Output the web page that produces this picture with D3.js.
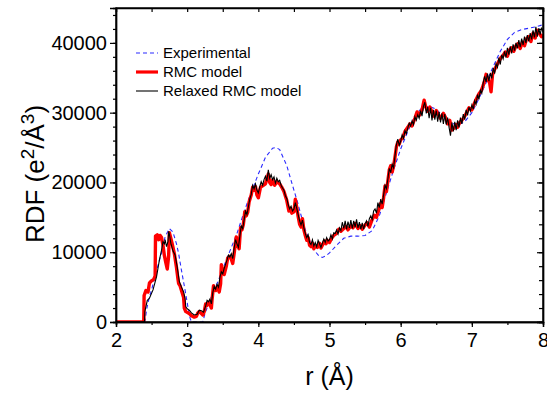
<!DOCTYPE html>
<html>
<head>
<meta charset="utf-8">
<script src="https://cdn.jsdelivr.net/npm/d3@7"></script>
<style>
  body { margin: 0; background: #fff; }
  text { font-family: Arial, "Liberation Sans", sans-serif; fill: #000; }
</style>
</head>
<body>
<figure id="rdf" style="margin:0"></figure>
<script>
// r (Å), RDF value pairs
const experimental = [
  [2.0, 0], [2.4, 0], [2.41, 300], [2.43, 1800], [2.46, 3200], [2.5, 4600], [2.57, 7400], [2.64, 9900],
  [2.69, 12200], [2.75, 13400], [2.8, 12900], [2.85, 11200], [2.88, 9800], [2.92, 7400], [2.97, 4600],
  [3.01, 2200], [3.04, 600], [3.06, 0], [3.22, 0], [3.25, 1200], [3.32, 3100], [3.44, 6000], [3.55, 8900],
  [3.7, 12700], [3.8, 15800], [3.9, 18600], [4.0, 21200], [4.1, 23600], [4.2, 24900], [4.25, 25000],
  [4.3, 24700], [4.4, 22400], [4.5, 18900], [4.55, 17200], [4.6, 15300], [4.65, 13500], [4.7, 12200],
  [4.75, 11000], [4.8, 10100], [4.85, 9500], [4.9, 9250], [4.95, 9500], [5.0, 9900], [5.1, 11000],
  [5.2, 12000], [5.3, 12300], [5.4, 12300], [5.5, 12400], [5.6, 13100], [5.7, 15200], [5.8, 18500],
  [5.9, 21800], [6.0, 24800], [6.1, 27300], [6.2, 29600], [6.3, 30700], [6.4, 30900], [6.5, 30500],
  [6.6, 29500], [6.7, 28600], [6.8, 28200], [6.9, 28700], [7.0, 30000], [7.1, 32000], [7.2, 34300],
  [7.3, 36600], [7.4, 38800], [7.5, 40500], [7.6, 41500], [7.7, 41900], [7.8, 42100], [7.9, 42300],
  [8.0, 42600]
];

const rmcModel = [
  [2.0, 0], [2.39, 0], [2.395, 3800], [2.42, 4500], [2.45, 4300], [2.47, 5600], [2.5, 5900], [2.53, 6100],
  [2.55, 6600], [2.555, 12300], [2.58, 12500], [2.6, 11800], [2.62, 12400], [2.64, 12100], [2.66, 11000],
  [2.68, 9500], [2.7, 8500], [2.72, 7600], [2.74, 9500], [2.75, 12800], [2.77, 12000], [2.79, 11200],
  [2.82, 9800], [2.85, 7800], [2.87, 6200], [2.88, 5500], [2.9, 5200], [2.92, 4500], [2.95, 3500],
  [2.96, 2000], [2.98, 1500], [3.0, 1400], [3.03, 1200], [3.06, 900], [3.1, 700], [3.13, 800],
  [3.15, 1300], [3.17, 1500], [3.2, 1200], [3.22, 1000], [3.24, 1500], [3.26, 2600], [3.28, 2400],
  [3.3, 2800], [3.32, 2500], [3.34, 2000], [3.35, 3200], [3.37, 5200], [3.4, 4500], [3.43, 5000],
  [3.45, 4300], [3.47, 5500], [3.48, 8200], [3.5, 7500], [3.52, 6800], [3.55, 8000], [3.57, 9200],
  [3.6, 9400], [3.62, 9000], [3.64, 8400], [3.66, 9800], [3.68, 11500], [3.69, 12200], [3.71, 11000],
  [3.73, 10500], [3.75, 13500], [3.77, 13200], [3.79, 14000], [3.81, 15800], [3.83, 15200], [3.85, 15700],
  [3.87, 17200], [3.9, 18200], [3.92, 19300], [3.94, 18900], [3.96, 19400], [3.98, 18200], [4.0, 17800],
  [4.03, 19300], [4.06, 19500], [4.1, 19800], [4.12, 20500], [4.14, 21200], [4.16, 20000], [4.18, 19700],
  [4.2, 20300], [4.23, 19600], [4.26, 20100], [4.3, 19800], [4.33, 19300], [4.36, 18700], [4.4, 17400],
  [4.43, 15900], [4.45, 16300], [4.47, 15600], [4.5, 15800], [4.52, 17600], [4.54, 16400], [4.56, 15100],
  [4.58, 14000], [4.6, 13600], [4.62, 14800], [4.64, 13200], [4.66, 12400], [4.68, 11700], [4.7, 12100],
  [4.72, 11000], [4.74, 10800], [4.76, 11300], [4.78, 10500], [4.8, 10900], [4.83, 10700], [4.86, 11300],
  [4.88, 10600], [4.9, 11000], [4.93, 11600], [4.95, 11200], [4.97, 11700], [5.0, 11400], [5.03, 12000],
  [5.06, 12400], [5.1, 12700], [5.13, 13300], [5.16, 13000], [5.2, 13400], [5.23, 13700], [5.26, 13200],
  [5.3, 13800], [5.33, 13500], [5.36, 14100], [5.4, 13400], [5.43, 13800], [5.46, 13300], [5.5, 13900],
  [5.53, 14200], [5.56, 13600], [5.6, 14700], [5.63, 15300], [5.66, 15000], [5.7, 16300], [5.72, 17000],
  [5.74, 16400], [5.76, 17800], [5.78, 19500], [5.8, 18700], [5.82, 20200], [5.84, 21800], [5.86, 22400],
  [5.88, 21500], [5.9, 22300], [5.92, 23600], [5.94, 25100], [5.96, 25800], [5.98, 25500], [6.0, 26100],
  [6.03, 26400], [6.06, 27300], [6.1, 27900], [6.13, 28400], [6.16, 28100], [6.2, 29200], [6.23, 30100],
  [6.26, 29600], [6.3, 30400], [6.33, 31800], [6.35, 30900], [6.38, 30200], [6.41, 30800], [6.44, 30100],
  [6.47, 29500], [6.5, 30300], [6.53, 29700], [6.56, 29200], [6.6, 29900], [6.63, 29300], [6.66, 28400],
  [6.69, 28900], [6.72, 27500], [6.75, 27800], [6.78, 28300], [6.8, 27900], [6.83, 28600], [6.86, 28900],
  [6.9, 29500], [6.93, 30100], [6.96, 30700], [7.0, 30400], [7.03, 31200], [7.06, 31900], [7.1, 32700],
  [7.13, 33100], [7.16, 33900], [7.18, 34600], [7.2, 35500], [7.22, 34800], [7.25, 34300], [7.27, 33000],
  [7.29, 35400], [7.32, 36200], [7.35, 36800], [7.38, 37400], [7.41, 37900], [7.44, 38200], [7.47, 38700],
  [7.5, 38100], [7.53, 39000], [7.56, 39300], [7.59, 38800], [7.62, 39600], [7.65, 39900], [7.68, 39200],
  [7.71, 40100], [7.74, 39600], [7.77, 40600], [7.8, 40900], [7.83, 40200], [7.86, 41400], [7.89, 40700],
  [7.92, 41800], [7.95, 41300], [7.98, 40900], [8.0, 41200]
];

const relaxedModel = [
  [2.0, 0], [2.4, 0], [2.405, 1500], [2.44, 3100], [2.47, 3400], [2.52, 4600], [2.57, 6500], [2.61, 8900],
  [2.64, 10300], [2.66, 11500], [2.68, 11200], [2.69, 11800], [2.71, 10800], [2.73, 11500], [2.74, 13000],
  [2.75, 12600], [2.77, 11300], [2.8, 10200], [2.83, 9600], [2.86, 7900], [2.89, 5800], [2.92, 5000],
  [2.95, 4300], [2.97, 3400], [2.98, 2200], [3.0, 1900], [3.03, 1700], [3.06, 1300], [3.1, 1000],
  [3.14, 1100], [3.17, 1700], [3.2, 1600], [3.23, 1400], [3.26, 2300], [3.28, 3100], [3.3, 2900],
  [3.32, 3300], [3.34, 2600], [3.36, 4200], [3.38, 5100], [3.4, 4700], [3.42, 5400], [3.44, 5000],
  [3.46, 6400], [3.48, 7200], [3.5, 6900], [3.52, 7700], [3.54, 8300], [3.56, 8900], [3.58, 9600],
  [3.6, 9300], [3.62, 9800], [3.64, 9100], [3.66, 10600], [3.68, 11800], [3.7, 11200], [3.72, 10700],
  [3.74, 12300], [3.76, 13800], [3.78, 13400], [3.8, 14600], [3.82, 15900], [3.84, 15400], [3.86, 16500],
  [3.88, 17600], [3.9, 18300], [3.92, 19600], [3.94, 19100], [3.96, 19800], [3.98, 18900], [4.0, 18500],
  [4.02, 19400], [4.04, 20100], [4.06, 19600], [4.08, 20400], [4.1, 20900], [4.12, 20200], [4.14, 21800],
  [4.16, 20600], [4.18, 21100], [4.2, 20400], [4.22, 20800], [4.24, 19900], [4.26, 20600], [4.28, 20100],
  [4.3, 20300], [4.32, 19600], [4.34, 19200], [4.36, 18900], [4.38, 18100], [4.4, 17700], [4.42, 16800],
  [4.44, 16200], [4.46, 16600], [4.48, 15900], [4.5, 16200], [4.52, 17100], [4.54, 16300], [4.56, 15400],
  [4.58, 14500], [4.6, 13900], [4.62, 14600], [4.64, 13500], [4.66, 12700], [4.68, 12100], [4.7, 12500],
  [4.72, 11400], [4.74, 11100], [4.76, 11800], [4.78, 10900], [4.8, 11400], [4.82, 10800], [4.84, 11700],
  [4.86, 11200], [4.88, 10700], [4.9, 11300], [4.92, 11900], [4.94, 11400], [4.96, 12100], [4.98, 11600],
  [5.0, 11800], [5.02, 12500], [5.04, 11900], [5.06, 12800], [5.08, 12700], [5.1, 13200], [5.12, 12600],
  [5.14, 13500], [5.16, 13100], [5.18, 14300], [5.2, 13400], [5.22, 14500], [5.24, 13300], [5.26, 14400],
  [5.28, 13500], [5.3, 14600], [5.32, 13400], [5.34, 14500], [5.36, 13600], [5.38, 14700], [5.4, 13500],
  [5.42, 14300], [5.44, 13300], [5.46, 14200], [5.48, 13300], [5.5, 14100], [5.52, 14500], [5.54, 13700],
  [5.56, 14800], [5.58, 15200], [5.6, 14700], [5.62, 15900], [5.64, 16200], [5.66, 15600], [5.68, 17100],
  [5.7, 16400], [5.72, 17600], [5.74, 16900], [5.76, 18200], [5.78, 19600], [5.8, 19100], [5.82, 20500],
  [5.84, 22000], [5.86, 21400], [5.88, 22600], [5.9, 22100], [5.92, 23800], [5.94, 25400], [5.96, 26200],
  [5.98, 25300], [6.0, 25900], [6.02, 26800], [6.04, 26300], [6.06, 27400], [6.08, 27000], [6.1, 27800],
  [6.12, 28500], [6.14, 28100], [6.16, 28800], [6.18, 28300], [6.2, 29400], [6.22, 28900], [6.24, 29700],
  [6.26, 29200], [6.28, 30300], [6.3, 29500], [6.32, 30900], [6.34, 31500], [6.36, 29900], [6.38, 30800],
  [6.4, 29200], [6.42, 30700], [6.44, 28900], [6.46, 30400], [6.48, 29000], [6.5, 30300], [6.52, 28700],
  [6.54, 30100], [6.56, 28600], [6.58, 29900], [6.6, 28400], [6.62, 29800], [6.64, 28300], [6.66, 29300],
  [6.68, 27900], [6.7, 26700], [6.72, 28600], [6.74, 27300], [6.76, 28700], [6.78, 27500], [6.8, 28900],
  [6.82, 27900], [6.84, 29300], [6.86, 28400], [6.88, 29800], [6.9, 29000], [6.92, 30400], [6.94, 29600],
  [6.96, 30800], [6.98, 30200], [7.0, 31100], [7.02, 30500], [7.04, 31700], [7.06, 31200], [7.08, 32600],
  [7.1, 31900], [7.12, 33200], [7.14, 32800], [7.16, 34300], [7.18, 35200], [7.2, 34400], [7.22, 35600],
  [7.24, 34500], [7.26, 35700], [7.28, 34900], [7.3, 36400], [7.32, 35600], [7.34, 37000], [7.36, 36500],
  [7.38, 37900], [7.4, 36900], [7.42, 38300], [7.44, 37700], [7.46, 38800], [7.48, 37900], [7.5, 39300],
  [7.52, 38300], [7.54, 39500], [7.56, 38500], [7.58, 39800], [7.6, 38900], [7.62, 40000], [7.64, 39200],
  [7.66, 40400], [7.68, 39400], [7.7, 40600], [7.72, 39700], [7.74, 40900], [7.76, 40000], [7.78, 41100],
  [7.8, 40200], [7.82, 41400], [7.84, 40500], [7.86, 41800], [7.88, 40800], [7.9, 42300], [7.92, 40900],
  [7.94, 42100], [7.96, 41200], [7.98, 42200], [8.0, 41500]
];

const xTicks = [2, 3, 4, 5, 6, 7, 8];
const yTicks = [0, 10000, 20000, 30000, 40000];
const legendLabels = ['Experimental', 'RMC model', 'Relaxed RMC model'];

const W = 547, H = 393;
const plotLeft = 116, plotRight = 543, plotTop = 8, plotBottom = 322;

const svg = d3.select('figure#rdf').append('svg')
  .attr('width', W).attr('height', H);

const x = d3.scaleLinear().domain([2, 8]).range([plotLeft, plotRight]);
const y = d3.scaleLinear().domain([0, 45000]).range([plotBottom, plotTop]);

svg.append('defs').append('clipPath').attr('id', 'plotclip')
  .append('rect').attr('x', plotLeft).attr('y', plotTop - 2)
  .attr('width', plotRight - plotLeft).attr('height', plotBottom - plotTop + 2);

const line = d3.line().x(d => x(d[0])).y(d => y(d[1]));
const curves = svg.append('g').attr('clip-path', 'url(#plotclip)');

curves.append('path').datum(experimental).attr('d', line)
  .attr('fill', 'none').attr('stroke', '#2b2bff').attr('stroke-width', 1.1)
  .attr('stroke-dasharray', '4,3');
curves.append('path').datum(rmcModel).attr('d', line)
  .attr('fill', 'none').attr('stroke', '#ff0000').attr('stroke-width', 3.4)
  .attr('stroke-linejoin', 'round');
curves.append('path').datum(relaxedModel).attr('d', line)
  .attr('fill', 'none').attr('stroke', '#000').attr('stroke-width', 1.1);

// axes: bottom and left tick outward, top and right tick inward
const xMinor = d3.range(2, 8.01, 0.5);
const yMinor = d3.range(0, 45001, 2000);

const bottomAxis = svg.append('g').attr('transform', `translate(0,${plotBottom})`);
bottomAxis.call(d3.axisBottom(x).tickValues(xMinor).tickSize(3).tickFormat(''));
bottomAxis.append('g').call(d3.axisBottom(x).tickValues(xTicks).tickSize(5).tickPadding(6).tickFormat(d3.format('d')));

const leftAxis = svg.append('g').attr('transform', `translate(${plotLeft},0)`);
leftAxis.call(d3.axisLeft(y).tickValues(yMinor).tickSize(3).tickFormat(''));
leftAxis.append('g').call(d3.axisLeft(y).tickValues(yTicks).tickSize(6).tickPadding(3).tickFormat(d3.format('d')));

svg.append('g').attr('transform', `translate(0,${plotTop})`)
  .call(d3.axisBottom(x).tickValues(xMinor).tickSize(4).tickFormat(''));
svg.append('g').attr('transform', `translate(${plotRight},0)`)
  .call(d3.axisLeft(y).tickValues(yMinor).tickSize(4).tickFormat(''));
svg.append('g').attr('transform', `translate(${plotRight},0)`)
  .call(d3.axisLeft(y).tickValues(yTicks).tickSize(6).tickFormat(''));

svg.selectAll('.domain').attr('stroke', '#000').attr('stroke-width', 1.4);
svg.selectAll('.tick line').attr('stroke', '#000').attr('stroke-width', 1.2);
svg.selectAll('.tick text').attr('font-size', 20).attr('fill', '#000')
  .attr('font-family', 'Arial, "Liberation Sans", sans-serif');

// frame outline
svg.append('rect').attr('x', plotLeft).attr('y', plotTop)
  .attr('width', plotRight - plotLeft).attr('height', plotBottom - plotTop)
  .attr('fill', 'none').attr('stroke', '#000').attr('stroke-width', 1.4);

// axis titles
svg.append('text').attr('x', (plotLeft + plotRight) / 2).attr('y', 385)
  .attr('text-anchor', 'middle').attr('font-size', 25).text('r (Å)');

const yt = svg.append('text').attr('text-anchor', 'middle').attr('font-size', 26)
  .attr('transform', 'translate(44,174) rotate(-90)');
yt.append('tspan').text('RDF (e');
yt.append('tspan').attr('font-size', 19).attr('dy', -10).text('2');
yt.append('tspan').attr('dy', 10).text('/Å');
yt.append('tspan').attr('font-size', 19).attr('dy', -10).text('3');
yt.append('tspan').attr('dy', 10).text(')');

// legend
const legendStyles = [
  { stroke: '#2b2bff', width: 1.1, dash: '4,3' },
  { stroke: '#ff0000', width: 3.2, dash: null },
  { stroke: '#000', width: 1.1, dash: null }
];
const legend = svg.append('g');
legendLabels.forEach((label, i) => {
  const ly = 53 + i * 19;
  legend.append('line').attr('x1', 136).attr('x2', 158).attr('y1', ly).attr('y2', ly)
    .attr('stroke', legendStyles[i].stroke).attr('stroke-width', legendStyles[i].width)
    .attr('stroke-dasharray', legendStyles[i].dash);
  legend.append('text').attr('x', 163).attr('y', ly + 5).attr('font-size', 15).text(label);
});
</script>
</body>
</html>
